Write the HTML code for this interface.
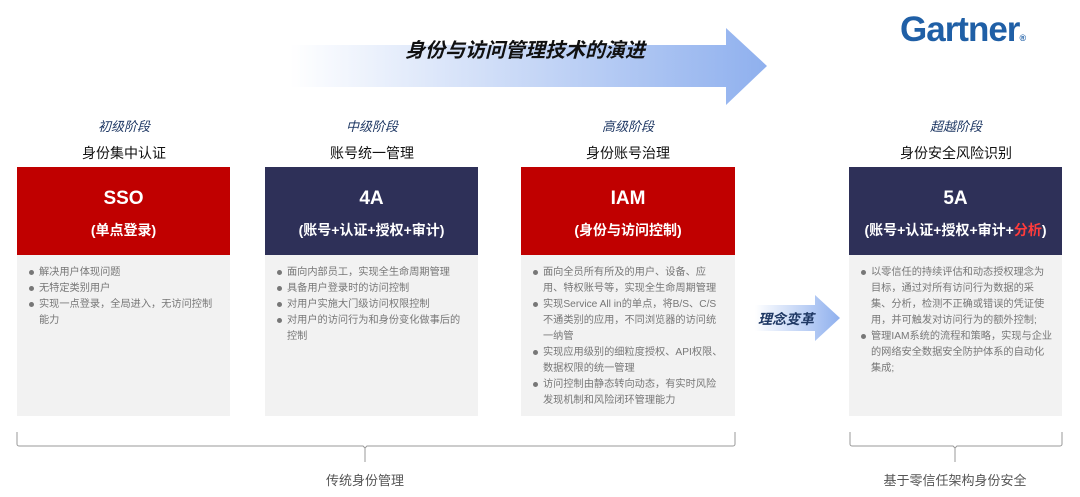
<!DOCTYPE html>
<html><head><meta charset="utf-8"><style>
*{margin:0;padding:0;box-sizing:border-box}
body{width:1080px;height:497px;background:#fff;position:relative;overflow:hidden;font-family:"Liberation Sans","Noto Sans CJK SC",sans-serif}
.a{position:absolute}
.stage{position:absolute;text-align:center;width:214px}
.stage .s{font-style:italic;color:#1f3864;font-size:13px}
.stage .t{color:#111;font-size:14px;margin-top:8px}
.hd{position:absolute;top:167px;height:88px;color:#fff;text-align:center;font-weight:bold}
.hd .n{font-size:19px;margin-top:21px}
.hd .d{font-size:14px;margin-top:10px}
.bd{position:absolute;top:255px;height:161px;background:#f2f2f2;padding:10px 9px 0 6px}
.bd ul{list-style:none}
.bd li{position:relative;padding-left:16px;font-size:10.2px;line-height:16px;color:#777}
.bd li:before{content:"";position:absolute;left:6px;top:5px;width:5px;height:5px;border-radius:50%;background:#777}
.red{background:#c00000}.navy{background:#2e3058}
</style></head><body>
<svg class="a" style="left:0;top:0" width="1080" height="497">
<defs><linearGradient id="g" x1="0" x2="1"><stop offset="0" stop-color="#fff"/><stop offset="1" stop-color="#8fb0ee"/></linearGradient></defs>
<polygon points="290,45 726,45 726,28 767,66 726,105 726,87 290,87" fill="url(#g)"/>
<defs><linearGradient id="g2" x1="0" x2="1"><stop offset="0" stop-color="#fff"/><stop offset="1" stop-color="#8fb0ee"/></linearGradient></defs>
<polygon points="755,305 815,305 815,295 840,318 815,341 815,331 755,331" fill="url(#g2)"/>
<path d="M17,432 v12 a2,2 0 0 0 2,2 H363 l2,2 v14 M365,448 l2,-2 H733 a2,2 0 0 0 2,-2 v-12" fill="none" stroke="#999" stroke-width="1"/>
<path d="M850,432 v12 a2,2 0 0 0 2,2 H953 l2,2 v14 M955,448 l2,-2 H1060 a2,2 0 0 0 2,-2 v-12" fill="none" stroke="#999" stroke-width="1"/>
</svg>
<div class="a" style="left:405px;top:34px;font-size:20px;font-weight:bold;font-style:italic;color:#111">身份与访问管理技术的演进</div>
<div class="a" style="left:900px;top:10px;font-size:35px;font-weight:bold;color:#1f5fa6;letter-spacing:-1px">Gartner<span style="font-size:9px">®</span></div>
<div class="a" style="left:758px;top:309px;font-size:14px;font-style:italic;font-weight:bold;color:#1f3864">理念变革</div>

<div class="stage" style="left:17px;top:116px"><div class="s">初级阶段</div><div class="t">身份集中认证</div></div>
<div class="stage" style="left:265px;top:116px"><div class="s">中级阶段</div><div class="t">账号统一管理</div></div>
<div class="stage" style="left:521px;top:116px"><div class="s">高级阶段</div><div class="t">身份账号治理</div></div>
<div class="stage" style="left:849px;top:116px"><div class="s">超越阶段</div><div class="t">身份安全风险识别</div></div>

<div class="hd red" style="left:17px;width:213px"><div class="n">SSO</div><div class="d">(单点登录)</div></div>
<div class="hd navy" style="left:265px;width:213px"><div class="n">4A</div><div class="d">(账号+认证+授权+审计)</div></div>
<div class="hd red" style="left:521px;width:214px"><div class="n">IAM</div><div class="d">(身份与访问控制)</div></div>
<div class="hd navy" style="left:849px;width:213px"><div class="n">5A</div><div class="d">(账号+认证+授权+审计+<span style="color:#ff3b3b">分析</span>)</div></div>

<div class="bd" style="left:17px;width:213px"><ul><li>解决用户体现问题</li><li>无特定类别用户</li><li>实现一点登录，全局进入，无访问控制能力</li></ul></div>
<div class="bd" style="left:265px;width:213px"><ul><li>面向内部员工，实现全生命周期管理</li><li>具备用户登录时的访问控制</li><li>对用户实施大门级访问权限控制</li><li>对用户的访问行为和身份变化做事后的控制</li></ul></div>
<div class="bd" style="left:521px;width:214px"><ul><li>面向全员所有所及的用户、设备、应用、特权账号等，实现全生命周期管理</li><li>实现Service All in的单点，将B/S、C/S不通类别的应用，不同浏览器的访问统一纳管</li><li>实现应用级别的细粒度授权、API权限、数据权限的统一管理</li><li>访问控制由静态转向动态，有实时风险发现机制和风险闭环管理能力</li></ul></div>
<div class="bd" style="left:849px;width:213px"><ul><li>以零信任的持续评估和动态授权理念为目标，通过对所有访问行为数据的采集、分析，检测不正确或错误的凭证使用，并可触发对访问行为的额外控制;</li><li>管理IAM系统的流程和策略，实现与企业的网络安全数据安全防护体系的自动化集成;</li></ul></div>

<div class="a" style="left:315px;top:470px;width:100px;text-align:center;font-size:13px;color:#555">传统身份管理</div>
<div class="a" style="left:875px;top:470px;width:160px;text-align:center;font-size:13px;color:#555">基于零信任架构身份安全</div>
</body></html>
